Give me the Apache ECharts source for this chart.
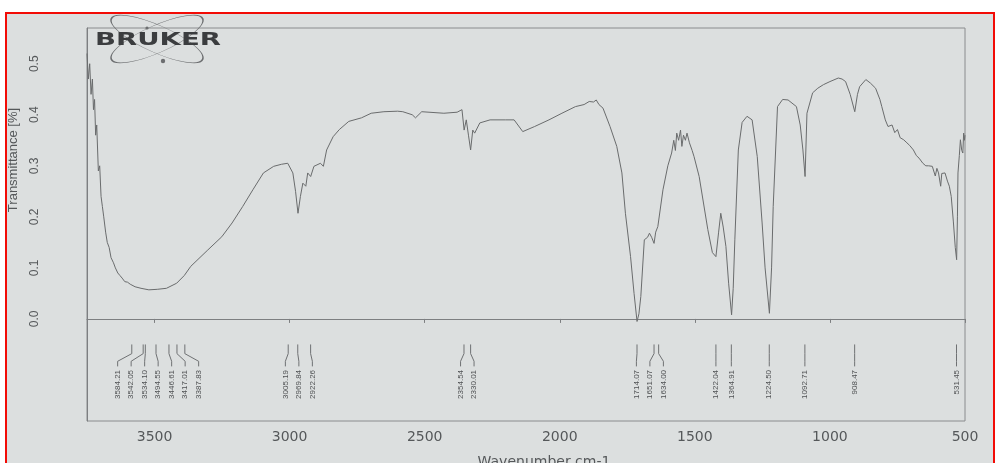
<!DOCTYPE html>
<html>
<head>
<meta charset="utf-8">
<script src="https://cdn.jsdelivr.net/npm/echarts@6/dist/echarts.min.js"></script>
<style>html,body{margin:0;padding:0;background:#ffffff;}#c{width:995px;height:463px;}</style>
</head>
<body>
<div id="c"></div>
<script>
// Spectrum data (wavenumber cm-1, transmittance)
const wavenumbers = [3750,3745,3740,3735,3730,3726,3722,3718,3714,3708,3703,3698,3693,3688,3681,3675,3668,3661,3652,3645,3636,3628,3620,3610,3600,3590,3572,3550,3521,3490,3456,3418,3390,3366,3303,3251,3213,3174,3136,3097,3059,3030,3007,2988,2978,2969,2960,2951,2940,2933,2922,2910,2886,2875,2863,2839,2816,2781,2734,2698,2651,2600,2581,2546,2534,2511,2429,2380,2362,2354,2346,2338,2330,2322,2315,2296,2258,2200,2169,2137,2093,2040,1992,1942,1910,1891,1875,1865,1855,1840,1814,1789,1770,1757,1738,1725,1714,1707,1700,1687,1675,1668,1660,1651,1645,1637,1618,1600,1586,1578,1572,1567,1560,1553,1548,1542,1535,1529,1520,1510,1503,1484,1452,1435,1422,1412,1404,1395,1385,1375,1364,1358,1352,1339,1325,1307,1288,1269,1251,1240,1224,1216,1210,1194,1175,1155,1124,1110,1100,1092,1085,1064,1045,1024,1000,969,955,942,925,908,898,890,867,850,831,815,808,795,785,770,760,750,740,727,715,705,691,680,670,656,645,635,621,610,604,598,590,586,574,565,558,551,543,536,531,528,526,521,517,512,508,505,502,500];
const transmittance = [0.52,0.47,0.50,0.44,0.47,0.41,0.43,0.36,0.38,0.29,0.30,0.24,0.22,0.20,0.17,0.15,0.14,0.12,0.11,0.10,0.09,0.085,0.08,0.073,0.072,0.068,0.063,0.060,0.057,0.058,0.060,0.070,0.085,0.103,0.135,0.161,0.188,0.220,0.253,0.286,0.299,0.303,0.305,0.286,0.25,0.207,0.24,0.266,0.26,0.286,0.279,0.299,0.305,0.299,0.331,0.357,0.371,0.387,0.394,0.403,0.406,0.407,0.406,0.400,0.394,0.406,0.403,0.405,0.41,0.37,0.39,0.36,0.331,0.37,0.364,0.384,0.39,0.39,0.39,0.367,0.377,0.39,0.403,0.416,0.42,0.426,0.425,0.429,0.42,0.413,0.377,0.338,0.286,0.207,0.122,0.05,-0.005,0.01,0.044,0.155,0.16,0.168,0.16,0.148,0.17,0.181,0.253,0.30,0.325,0.35,0.33,0.364,0.35,0.37,0.338,0.36,0.35,0.364,0.345,0.33,0.318,0.279,0.175,0.13,0.122,0.17,0.207,0.18,0.142,0.07,0.008,0.06,0.155,0.331,0.385,0.397,0.390,0.318,0.188,0.10,0.011,0.10,0.22,0.416,0.43,0.429,0.416,0.38,0.331,0.279,0.403,0.443,0.452,0.459,0.465,0.472,0.47,0.465,0.44,0.406,0.44,0.455,0.469,0.462,0.452,0.43,0.416,0.39,0.377,0.38,0.365,0.371,0.355,0.351,0.345,0.34,0.331,0.32,0.315,0.305,0.30,0.30,0.299,0.28,0.295,0.286,0.26,0.285,0.286,0.27,0.26,0.24,0.19,0.14,0.116,0.20,0.286,0.32,0.351,0.33,0.325,0.364,0.35,0.36];

// Peak picks
const peakWavenumbers = [3584.21,3542.05,3534.10,3494.55,3446.61,3417.01,3387.83,3005.19,2969.84,2922.26,2354.54,2330.01,1714.07,1651.07,1634.00,1422.04,1364.91,1224.50,1092.71,908.47,531.45];
const peakLabels = ["3584.21","3542.05","3534.10","3494.55","3446.61","3417.01","3387.83","3005.19","2969.84","2922.26","2354.54","2330.01","1714.07","1651.07","1634.00","1422.04","1364.91","1224.50","1092.71","908.47","531.45"];

// Axis ticks
const xTicks = [500,1000,1500,2000,2500,3000,3500];
const yTicks = [0.0,0.1,0.2,0.3,0.4,0.5];

const lineColor = '#6a6c6d';
const textColor = '#55585a';
const paper = '#dcdfdf';

function layoutPeaks(api){
  const pts = peakWavenumbers.map(w => api.coord([w, 0])[0]);
  const idx = pts.map((p,i)=>i).sort((a,b)=>pts[a]-pts[b]);
  const gap = 13.5;
  const clusters = [];
  idx.forEach(i => {
    clusters.push({members:[i], center:pts[i]});
    while (clusters.length > 1) {
      const c = clusters[clusters.length-1], p = clusters[clusters.length-2];
      const pRight = p.center + (p.members.length-1)*gap/2;
      const cLeft = c.center - (c.members.length-1)*gap/2;
      if (cLeft - pRight < gap) {
        const m = p.members.concat(c.members);
        const center = m.reduce((s,k)=>s+pts[k],0)/m.length;
        clusters.splice(clusters.length-2, 2, {members:m, center:center});
      } else break;
    }
  });
  const pos = {};
  clusters.forEach(c => c.members.forEach((m,k) => { pos[m] = c.center + (k-(c.members.length-1)/2)*gap; }));
  return {pts, pos};
}

const chart = echarts.init(document.getElementById('c'));
chart.setOption({
  backgroundColor: '#ffffff',
  animation: false,
  grid: {left: 87, right: 30, top: 28, bottom: 42, outerBoundsMode: 'none', containLabel: false,
         show: true, borderColor: '#8a8c8e', borderWidth: 1, backgroundColor: 'transparent'},
  xAxis: {
    type: 'value', inverse: true, min: 500, max: 3750, interval: 500,
    name: 'Wavenumber cm-1', nameLocation: 'middle', nameGap: 34,
    nameTextStyle: {fontFamily: 'DejaVu Sans', fontSize: 14, color: textColor, padding: [0,0,0,36]},
    axisLine: {lineStyle: {color: '#7d7f81'}},
    axisTick: {length: 4, lineStyle: {color: '#7d7f81'}, customValues: xTicks},
    axisLabel: {fontFamily: 'DejaVu Sans', fontSize: 14, color: textColor, margin: 9,
      customValues: xTicks, formatter: v => String(v)},
    splitLine: {show: false}
  },
  yAxis: {
    type: 'value', min: -0.2, max: 0.57, interval: 0.1,
    axisLine: {show: true, lineStyle: {color: '#7d7f81'}},
    axisTick: {show: false},
    axisLabel: {rotate: 90, fontFamily: 'Liberation Sans', fontSize: 12, color: textColor, margin: 46,
      customValues: yTicks, formatter: v => v.toFixed(1)},
    splitLine: {show: false}
  },
  graphic: [
    {type: 'rect', z: -100, shape: {x: 6, y: 13, width: 989, height: 450}, style: {fill: paper}},
    {type: 'text', x: 13, y: 160, rotation: Math.PI/2,
     style: {text: 'Transmittance [%]', fontFamily: 'Liberation Sans', fontSize: 13, fill: textColor, align: 'center', verticalAlign: 'middle'}},
    {type: 'circle', x: 157, y: 39, scaleX: 1, scaleY: 0.27, rotation: 0.42,
     shape: {r: 50}, style: {fill: 'none', stroke: '#6c6e70', lineWidth: 1.6}},
    {type: 'circle', x: 157, y: 39, scaleX: 1, scaleY: 0.27, rotation: -0.42,
     shape: {r: 50}, style: {fill: 'none', stroke: '#6c6e70', lineWidth: 1.6}},
    {type: 'circle', x: 163, y: 61, shape: {r: 2.2}, style: {fill: '#6c6e70'}},
    {type: 'circle', x: 147, y: 28, shape: {r: 1.6}, style: {fill: '#6c6e70'}},
    {type: 'text', x: 158, y: 41, scaleX: 1.62, scaleY: 1,
     style: {text: 'BRUKER', fontFamily: 'DejaVu Sans', fontWeight: 'bold', fontSize: 17, fill: '#3b3d3f', align: 'center', verticalAlign: 'middle'}},
    {type: 'rect', z: 100, shape: {x: 6, y: 13, width: 988, height: 460}, style: {fill: 'none', stroke: '#f20c06', lineWidth: 2}}
  ],
  series: [
    {
      type: 'line', showSymbol: false, symbol: 'none',
      data: wavenumbers.map((w,i) => [w, transmittance[i]]),
      lineStyle: {color: lineColor, width: 1},
      clip: true
    },
    {
      type: 'custom', clip: false,
      data: peakWavenumbers.map(w => [w, -0.1]),
      encode: {x: 0, y: 1},
      renderItem: function(params, api){
        const i = params.dataIndex;
        const L = layoutPeaks(api);
        const y1 = api.coord([1000, -0.05])[1];
        const y2 = api.coord([1000, -0.068])[1];
        const y3 = api.coord([1000, -0.083])[1];
        const y4 = api.coord([1000, -0.093])[1];
        const y5 = api.coord([1000, -0.1])[1];
        return {
          type: 'group',
          children: [
            {type: 'polyline', shape: {points: [[L.pts[i], y1],[L.pts[i], y2],[L.pos[i], y3],[L.pos[i], y4]]},
             style: {stroke: '#6f7173', lineWidth: 1, fill: 'none'}},
            {type: 'text', x: L.pos[i], y: y5, rotation: Math.PI/2,
             style: {text: peakLabels[i], fontFamily: 'Liberation Sans', fontSize: 8, fill: '#4f5153', align: 'right', verticalAlign: 'middle'}}
          ]
        };
      }
    }
  ]
});
</script>
</body>
</html>
